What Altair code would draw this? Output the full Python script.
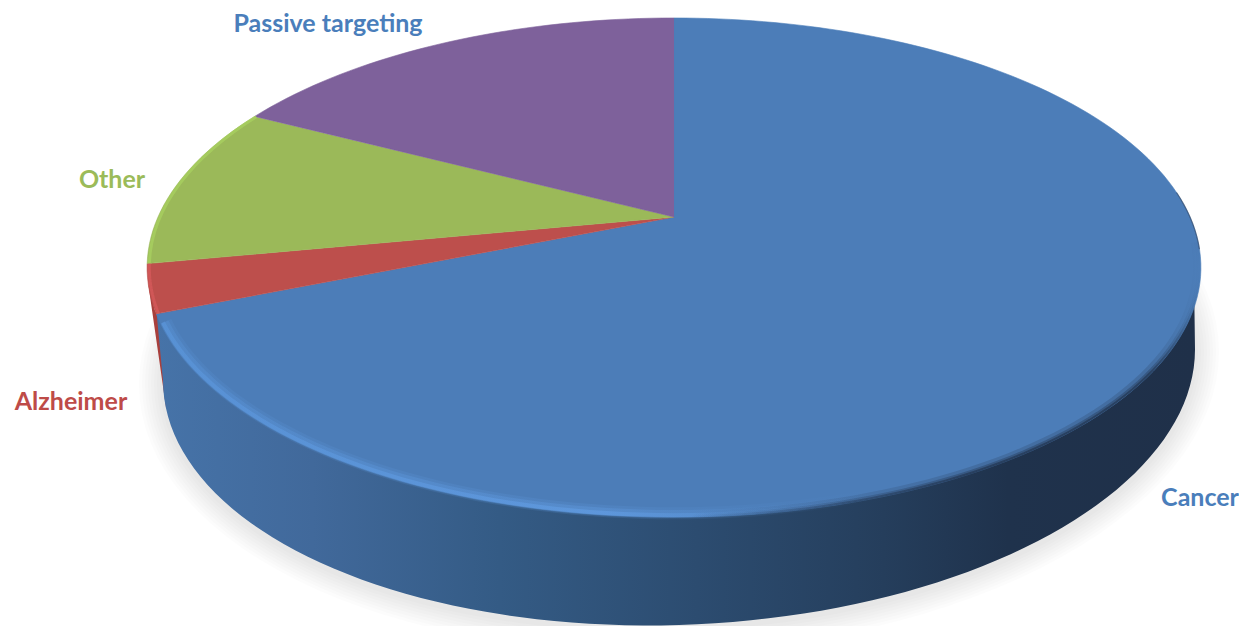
import math
import altair as alt
import pandas as pd

# --- chart values -------------------------------------------------
categories = ["Cancer", "Alzheimer", "Other", "Passive targeting"]
shares = [68.9, 3.1, 10.6, 17.4]
top_colors = ["#4c7db8", "#bd4f4c", "#9bb959", "#7e619b"]
label_colors = ["#4a7ebb", "#be4b48", "#9bbb59", "#4a7ebb"]
label_x = [1200, 71, 112, 328]
label_y = [498, 402, 180, 24]

# --- view of the pie (tilted disc) ---------------------------------
APEX_X, APEX_Y = 674, 217
K, A, B = 0.2024, 239.3, 516.0
LOW_CX, LOW_CY, LOW_RX, LOW_RY, LOW_SKEW = 679, 365, 516, 260, -0.03
X_SCALE = alt.Scale(domain=[8, 1239], nice=False, zero=False)
Y_SCALE = alt.Scale(domain=[626, 8], nice=False, zero=False)


def rim(deg, s=1.0):
    t = math.radians(deg)
    w = 1 + K * s * math.cos(t)
    return APEX_X + B * s * math.sin(t) / w, APEX_Y - A * s * math.cos(t) / w


def lower(t_deg, grow=0.0, dy=0.0):
    t = math.radians(t_deg)
    x = LOW_CX + (LOW_RX + grow) * math.cos(t)
    y = LOW_CY + (LOW_RY + grow) * math.sin(t) + LOW_SKEW * (x - LOW_CX) + dy
    return x, y


def frame(points):
    return pd.DataFrame([{"x": p[0], "y": p[1], "o": i} for i, p in enumerate(points)])


def enc(chart):
    return chart.encode(
        x=alt.X("x:Q", scale=X_SCALE, axis=None),
        y=alt.Y("y:Q", scale=Y_SCALE, axis=None),
        order="o:Q",
    )


def hgrad(stops):
    return alt.Gradient(
        gradient="linear", x1=0, x2=1, y1=0, y2=0,
        stops=[alt.GradientStop(offset=o, color=c) for o, c in stops],
    )


layers = []

# soft shadow
for g in range(24, 0, -3):
    pts = [lower(a, grow=g, dy=3) for a in range(0, 360, 3)]
    layers.append(enc(alt.Chart(frame(pts)).mark_line(fill="#808080", fillOpacity=0.024, strokeWidth=0)))

# angles of the slices, clockwise from the top
edges = [0.0]
for v in shares:
    edges.append(edges[-1] + v / sum(shares) * 360)

# red side wall sliver
p0 = rim(edges[1] + 1)
p1 = rim(edges[1] + 7)
p2 = rim(edges[1] - 3)
red_pts = [p2, p0, p1, (p1[0] + 18, p1[1] + 125), (p0[0] + 14, p0[1] + 90)]
layers.append(enc(alt.Chart(frame(red_pts)).mark_line(fill="#a83f3c", strokeWidth=0)))

# blue side wall
wall_pts = [rim(92)] + [lower(a) for a in range(0, 181, 2)] + [rim(edges[1] - 0.3)]
wall_fill = hgrad([
    (0.0, "#4673a8"), (0.15, "#41699b"), (0.33, "#345b85"),
    (0.52, "#2c4c70"), (0.70, "#253e5c"), (0.82, "#1f324c"), (1.0, "#1f3049"),
])
layers.append(enc(alt.Chart(frame(wall_pts)).mark_line(fill=wall_fill, strokeWidth=0)))

# top face slices
for i, c in enumerate(top_colors):
    a0, a1 = edges[i], edges[i + 1]
    n = max(2, int((a1 - a0) / 1.5))
    pts = [(APEX_X, APEX_Y)] + [rim(a0 + (a1 - a0) * j / n) for j in range(n + 1)]
    layers.append(enc(alt.Chart(frame(pts)).mark_line(fill=c, stroke=c, strokeWidth=0.6)))

# lighter rim of the green and red slices
for idx, col in ((2, "#a8cf5f"), (1, "#d4595a")):
    a0, a1 = edges[idx], edges[idx + 1]
    pts = [rim(a0 + (a1 - a0) * j / 16, 0.996) for j in range(17)]
    layers.append(enc(alt.Chart(frame(pts)).mark_line(color=col, strokeWidth=3, opacity=0.8)))

# bevel: bright on the left of the front rim, fading out past the middle
for s, w, alpha in ((0.99, 12, 0.16), (0.992, 8, 0.3), (0.995, 4, 0.55)):
    pts = [rim(edges[1] - 2 - j * 1.5, s) for j in range(0, 57)]
    grad = hgrad([
        (0.0, f"rgba(92,152,222,{alpha})"), (0.62, f"rgba(100,160,232,{alpha})"),
        (0.85, f"rgba(96,156,226,{alpha * 0.45})"), (1.0, "rgba(96,156,226,0)"),
    ])
    layers.append(enc(alt.Chart(frame(pts)).mark_line(stroke=grad, strokeWidth=w)))

# dark blurred edge on the right of the front rim
for s, w, alpha in ((0.992, 7, 0.2), (0.996, 4, 0.35), (0.998, 2, 0.6)):
    pts = [rim(96 + j * 1.5, s) for j in range(0, 56)]
    grad = hgrad([
        (0.0, "rgba(31,48,73,0)"), (0.3, f"rgba(31,48,73,{alpha * 0.6})"),
        (0.55, f"rgba(31,48,73,{alpha})"), (0.9, f"rgba(31,48,73,{alpha})"),
        (1.0, "rgba(31,48,73,0)"),
    ])
    layers.append(enc(alt.Chart(frame(pts)).mark_line(stroke=grad, strokeWidth=w)))

# thin dark line on the far right of the rim
pts = [rim(84 + j * 1.5, 1.0) for j in range(0, 10)]
layers.append(enc(alt.Chart(frame(pts)).mark_line(color="#1f3049", strokeWidth=1.2, opacity=0.5)))

# labels
label_df = pd.DataFrame({"label": categories, "x": label_x, "y": label_y, "c": label_colors})
labels = alt.Chart(label_df).mark_text(
    font="Lato", fontSize=25, fontWeight="bold", align="center", baseline="middle"
).encode(
    x=alt.X("x:Q", scale=X_SCALE, axis=None),
    y=alt.Y("y:Q", scale=Y_SCALE, axis=None),
    text="label:N",
    color=alt.Color("c:N", scale=None),
)
layers.append(labels)

chart = alt.layer(*layers).properties(
    width=1231, height=618, padding=0,
    autosize=alt.AutoSizeParams(type="none"),
).configure_view(stroke=None)

chart.save("out.html", embed_options={"renderer": "svg", "actions": False})
